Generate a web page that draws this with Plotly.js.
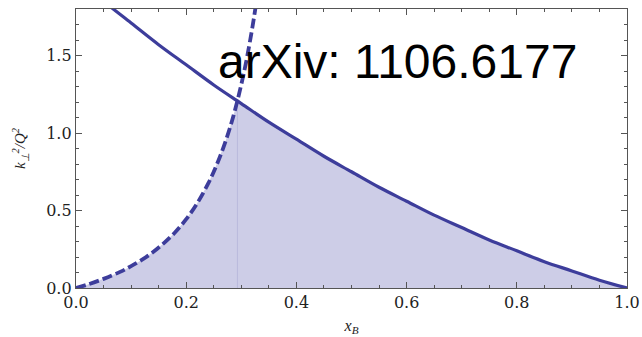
<!DOCTYPE html>
<html>
<head>
<meta charset="utf-8">
<script src="https://cdn.plot.ly/plotly-3.0.1.min.js"></script>
<style>html,body{margin:0;padding:0;background:#fff}#chart{width:642px;height:337px}</style>
</head>
<body>
<div id="chart"></div>
<script>
// Solid curve (upper bound)
const solidX = [0, 0.05, 0.1, 0.15, 0.2, 0.25, 0.3, 0.35, 0.4, 0.45, 0.5, 0.55, 0.6, 0.65, 0.7, 0.75, 0.8, 0.85, 0.9, 0.95, 1.0];
const solidY = [2.0, 1.85, 1.71, 1.57, 1.44, 1.31, 1.19, 1.07, 0.96, 0.85, 0.75, 0.65, 0.56, 0.47, 0.39, 0.31, 0.24, 0.17, 0.11, 0.05, 0.0];
// Dashed curve
const dashX = [0, 0.02, 0.05, 0.08, 0.1, 0.12, 0.14, 0.16, 0.18, 0.2, 0.22, 0.24, 0.25, 0.26, 0.27, 0.28, 0.29, 0.3, 0.31, 0.32, 0.325, 0.33];
const dashY = [0, 0.021, 0.059, 0.104, 0.141, 0.183, 0.232, 0.291, 0.360, 0.444, 0.547, 0.675, 0.75, 0.835, 0.932, 1.041, 1.167, 1.313, 1.481, 1.679, 1.791, 1.913];
// Crossing point of the two curves
const crossX = 0.293, crossY = 1.207;
const xTicks = [0, 0.2, 0.4, 0.6, 0.8, 1.0];
const xTickText = ["0.0", "0.2", "0.4", "0.6", "0.8", "1.0"];
const yTicks = [0, 0.5, 1.0, 1.5];
const yTickText = ["0.0", "0.5", "1.0", "1.5"];
const label = "arXiv: 1106.6177";

const lineColor = "#3d3d9b";
const fillColor = "#cdcde7";

// allowed region boundary: dashed up to crossing, then solid
const fx = [], fy = [];
dashX.forEach((x, i) => { if (x < crossX) { fx.push(x); fy.push(dashY[i]); } });
fx.push(crossX); fy.push(crossY);
solidX.forEach((x, i) => { if (x > crossX) { fx.push(x); fy.push(solidY[i]); } });

const traces = [
  {x: fx, y: fy, mode: "lines", line: {width: 0, color: fillColor}, fill: "tozeroy", fillcolor: fillColor, hoverinfo: "skip"},
  {x: [crossX, crossX], y: [0, crossY], mode: "lines", line: {width: 1, color: "#babadc"}, hoverinfo: "skip"},
  {x: solidX, y: solidY, mode: "lines", line: {width: 3.2, color: lineColor, shape: "spline"}},
  {x: dashX, y: dashY, mode: "lines", line: {width: 3.8, color: lineColor, dash: "10px,4px", shape: "spline"}}
];

const axisCommon = {
  showgrid: false, zeroline: false, showline: true, linecolor: "#555", linewidth: 1.2,
  mirror: "allticks", ticks: "inside", ticklen: 6, tickwidth: 1, tickcolor: "#555",
  tickfont: {family: "DejaVu Serif, serif", size: 16, color: "#222"}
};

const layout = {
  width: 642, height: 337,
  margin: {l: 76, r: 15, t: 9, b: 49},
  paper_bgcolor: "#fff", plot_bgcolor: "#fff",
  showlegend: false,
  xaxis: Object.assign({}, axisCommon, {
    range: [0, 1], tickvals: xTicks, ticktext: xTickText,
    minor: {dtick: 0.05, ticks: "inside", ticklen: 3, tickcolor: "#555"},
    title: {text: "<i>x<sub>B</sub></i>", font: {family: "Liberation Serif, serif", size: 16, color: "#222"}, standoff: 8}
  }),
  yaxis: Object.assign({}, axisCommon, {
    range: [0, 1.8], tickvals: yTicks, ticktext: yTickText,
    minor: {dtick: 0.1, ticks: "inside", ticklen: 3, tickcolor: "#555"},
    title: {text: "<i>k<sub>⊥</sub><sup>2</sup>/Q<sup>2</sup></i>", font: {family: "Liberation Serif, serif", size: 15, color: "#222"}, standoff: 16}
  }),
  annotations: [{
    text: label, xref: "paper", yref: "paper", x: 0.584, y: 0.812,
    xanchor: "center", yanchor: "middle", showarrow: false,
    font: {family: "Liberation Sans, Arial, sans-serif", size: 48, color: "#000"}
  }]
};

Plotly.newPlot("chart", traces, layout, {displayModeBar: false, staticPlot: true});
</script>
</body>
</html>
